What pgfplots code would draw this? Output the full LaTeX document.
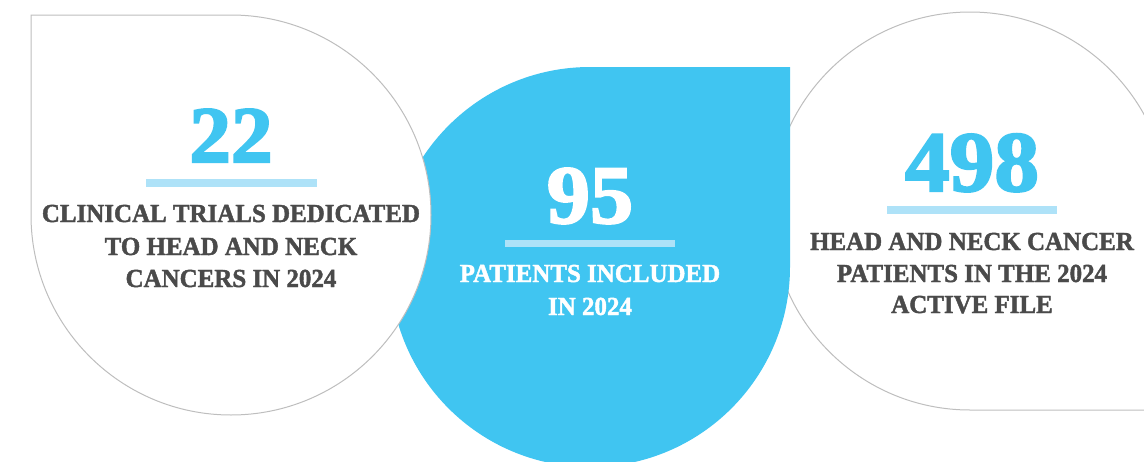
\documentclass[border=0pt]{standalone}
\usepackage{fontspec}
\setmainfont{Liberation Serif}
\newfontfamily\labfont[FakeStretch=0.96, BoldFeatures={FakeBold=1.6}]{Liberation Serif}
\newfontfamily\figfont[FakeStretch=1.04, BoldFeatures={FakeBold=2.5}]{Liberation Serif}
\usepackage{xcolor}
\usepackage{pgfplots}
\pgfplotsset{compat=1.18}

\definecolor{skyblue}{HTML}{40C5F1}
\definecolor{paleblue}{HTML}{AEE2F8}
\definecolor{rimgray}{HTML}{BEBEBE}
\definecolor{textgray}{HTML}{4A4A4A}

% one style for each key figure
\pgfplotsset{
  keyfig/.style={draw=none, mark=none, nodes near coords,
    point meta=explicit symbolic,
    every node near coord/.append style={anchor=base, inner sep=0pt,
      font=\figfont\fontsize{#1}{#1}\selectfont\bfseries}},
}
\newcommand{\lab}[3]{\node[anchor=base, inner sep=0pt, text=#3,
  font=\labfont\fontsize{26}{30}\selectfont\bfseries] at #1 {#2};}

\begin{document}
\begin{tikzpicture}
\useasboundingbox (0,0) rectangle (1144pt,461pt);
\clip (0,0) rectangle (1144pt,461pt);
\begin{axis}[
  at={(0,0)}, anchor=south west,
  width=1144pt, height=461pt, scale only axis,
  xmin=0, xmax=1144, ymin=0, ymax=461,
  y dir=reverse,
  hide axis,
  clip=false,
]
% right drop (square corner bottom right)
\draw[rimgray, line width=1pt, fill=white]
  (axis cs:1169,410) -- (axis cs:970,410)
  arc[start angle=-90, end angle=-360, radius=199pt] -- cycle;
% middle drop (square corner top right)
\fill[skyblue]
  (axis cs:790,67) -- (axis cs:790,267)
  arc[start angle=0, end angle=-270, radius=200pt] -- cycle;
% left drop (square corner top left)
\draw[rimgray, line width=1pt, fill=white]
  (axis cs:31,15) -- (axis cs:231,15)
  arc[start angle=90, end angle=-180, radius=200pt] -- cycle;

% underlines
\fill[paleblue] (axis cs:146,179) rectangle (axis cs:317,187);
\fill[paleblue] (axis cs:505,240) rectangle (axis cs:675,247);
\fill[paleblue] (axis cs:887,206) rectangle (axis cs:1057,214);

% key figures
\addplot[keyfig=80, every node near coord/.append style={text=skyblue}]
  coordinates {(231,162) [22]};
\addplot[keyfig=83, every node near coord/.append style={text=white}]
  coordinates {(590,223) [95]};
\addplot[keyfig=86, every node near coord/.append style={text=skyblue}]
  coordinates {(972,191) [498]};

% captions
\lab{(axis cs:231,222)}{CLINICAL TRIALS DEDICATED}{textgray}
\lab{(axis cs:231,255)}{TO HEAD AND NECK}{textgray}
\lab{(axis cs:231,287)}{CANCERS IN 2024}{textgray}
\lab{(axis cs:590,282)}{PATIENTS INCLUDED}{white}
\lab{(axis cs:590,315)}{IN 2024}{white}
\lab{(axis cs:972,250)}{HEAD AND NECK CANCER}{textgray}
\lab{(axis cs:972,282)}{PATIENTS IN THE 2024}{textgray}
\lab{(axis cs:972,313)}{ACTIVE FILE}{textgray}
\end{axis}
\end{tikzpicture}
\end{document}
